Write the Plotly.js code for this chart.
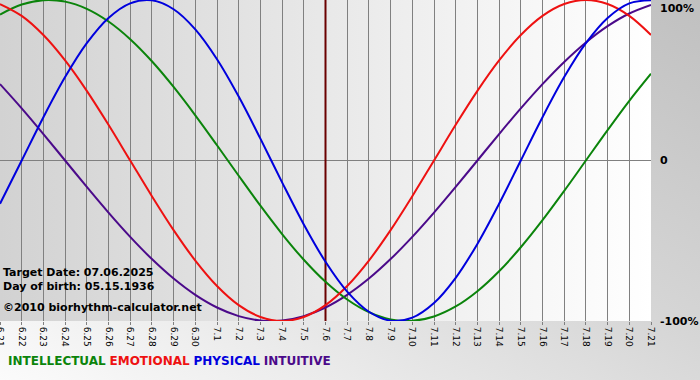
<!DOCTYPE html>
<html><head><meta charset="utf-8">
<script src="https://cdn.plot.ly/plotly-3.0.1.min.js"></script>
<style>
html,body{margin:0;padding:0;}
body{width:700px;height:380px;overflow:hidden;background:linear-gradient(to top right,#fbfbfb 0%,#d6d6d6 55%,#c0c0c0 100%);position:relative;}
#bg{position:absolute;left:0;top:0;width:651px;height:321px;background:linear-gradient(to right,#d2d2d2,#ffffff);}
#chart{position:absolute;left:0;top:0;width:700px;height:380px;}
</style></head><body><div id="bg"></div><div id="chart"></div>
<script>
const dates = ['6.21','6.22','6.23','6.24','6.25','6.26','6.27','6.28','6.29','6.30',
  '7.1','7.2','7.3','7.4','7.5','7.6','7.7','7.8','7.9','7.10','7.11','7.12','7.13','7.14',
  '7.15','7.16','7.17','7.18','7.19','7.20','7.21'];
const intellectual = [90.96, 97.18, 99.89, 98.98, 94.50, 86.60, 75.57, 61.82, 45.82, 28.17, 9.51, -9.51, -28.17, -45.82, -61.82, -75.57, -86.60, -94.50, -98.98, -99.89, -97.18, -90.96, -81.46, -69.01, -54.06, -37.17, -18.93, 0, 18.93, 37.17, 54.06];
const emotional = [97.49, 90.10, 78.18, 62.35, 43.39, 22.25, 0, -22.25, -43.39, -62.35, -78.18, -90.10, -97.49, -100, -97.49, -90.10, -78.18, -62.35, -43.39, -22.25, 0, 22.25, 43.39, 62.35, 78.18, 90.10, 97.49, 100, 97.49, 90.10, 78.18];
const physical = [-26.98, 0, 26.98, 51.96, 73.08, 88.79, 97.91, 99.77, 94.23, 81.70, 63.10, 39.84, 13.62, -13.62, -39.84, -63.10, -81.70, -94.23, -99.77, -97.91, -88.79, -73.08, -51.96, -26.98, 0, 26.98, 51.96, 73.08, 88.79, 97.91, 99.77];
const intuitive = [47.59, 32.47, 16.46, 0, -16.46, -32.47, -47.59, -61.42, -73.57, -83.72, -91.58, -96.94, -99.66, -99.66, -96.94, -91.58, -83.72, -73.57, -61.42, -47.59, -32.47, -16.46, 0, 16.46, 32.47, 47.59, 61.42, 73.57, 83.72, 91.58, 96.94];
const targetDate = '7.6';
const yTickVals = [100, 0, -100];
const yTickText = ['100%', '0', '-100%'];
const seriesNames = ['INTELLECTUAL', 'EMOTIONAL', 'PHYSICAL', 'INTUITIVE'];
const noteLines = ['Target Date: 07.06.2025', 'Day of birth: 05.15.1936', '©2010 biorhythm-calculator.net'];

const colors = {INTELLECTUAL:'#0b840b', EMOTIONAL:'#ee1111', PHYSICAL:'#0000dd', INTUITIVE:'#4b0a8a'};
const dataMap = {INTELLECTUAL:intellectual, EMOTIONAL:emotional, PHYSICAL:physical, INTUITIVE:intuitive};
const drawOrder = ['INTUITIVE','INTELLECTUAL','EMOTIONAL','PHYSICAL'];

const targetTrace = {x:[targetDate, targetDate], y:[-100, 100], type:'scatter', mode:'lines',
  line:{color:'#6a0000', width:2}, hoverinfo:'skip'};
const traces = [targetTrace].concat(drawOrder.map(n => ({
  x: dates, y: dataMap[n], type:'scatter', mode:'lines', name:n,
  line:{color:colors[n], width:2, shape:'spline', smoothing:1}, hoverinfo:'skip'
})));

const F = 'DejaVu Sans, Verdana, sans-serif';
const annotations = [];
yTickVals.forEach((v,i) => {
  annotations.push({xref:'paper', yref:'y', x:1, y:v, xanchor:'left',
    yanchor: i===0 ? 'top' : 'middle', xshift:7,
    text:'<b>'+yTickText[i]+'</b>', showarrow:false, font:{family:F, size:11, color:'#000'}});
});
const noteY = [0.1526, 0.109, 0.0436];
noteLines.forEach((t,i) => {
  annotations.push({xref:'paper', yref:'paper', x:0, y:noteY[i], xanchor:'left', yanchor:'middle', xshift:1,
    text:'<b>'+t+'</b>', showarrow:false, font:{family:F, size:11, color:'#000'}});
});
annotations.push({xref:'paper', yref:'paper', x:0, y:-0.1246, xanchor:'left', yanchor:'middle', xshift:6,
  text: seriesNames.map(n => '<span style="color:'+colors[n]+'"><b>'+n+'</b></span>').join(' '),
  showarrow:false, font:{family:F, size:12}});

const layout = {
  width:700, height:380,
  margin:{l:0, r:49, t:0, b:59, pad:0},
  paper_bgcolor:'rgba(0,0,0,0)', plot_bgcolor:'rgba(0,0,0,0)',
  showlegend:false,
  xaxis:{type:'category', categoryorder:'array', categoryarray:dates, range:[0, dates.length-1],
    tickangle:90, showgrid:true, gridcolor:'#808080', gridwidth:1,
    ticks:'outside', ticklen:3, tickcolor:'#808080', tickfont:{family:F, size:9, color:'#000'},
    showline:false, zeroline:false, fixedrange:true},
  yaxis:{range:[-100,100], side:'right', tickvals:yTickVals, showticklabels:false, showgrid:true,
    gridcolor:'#808080', gridwidth:1, zeroline:false, showline:false, ticks:'', fixedrange:true},
  annotations: annotations
};
Plotly.newPlot('chart', traces, layout, {staticPlot:true, displayModeBar:false});
</script></body></html>
